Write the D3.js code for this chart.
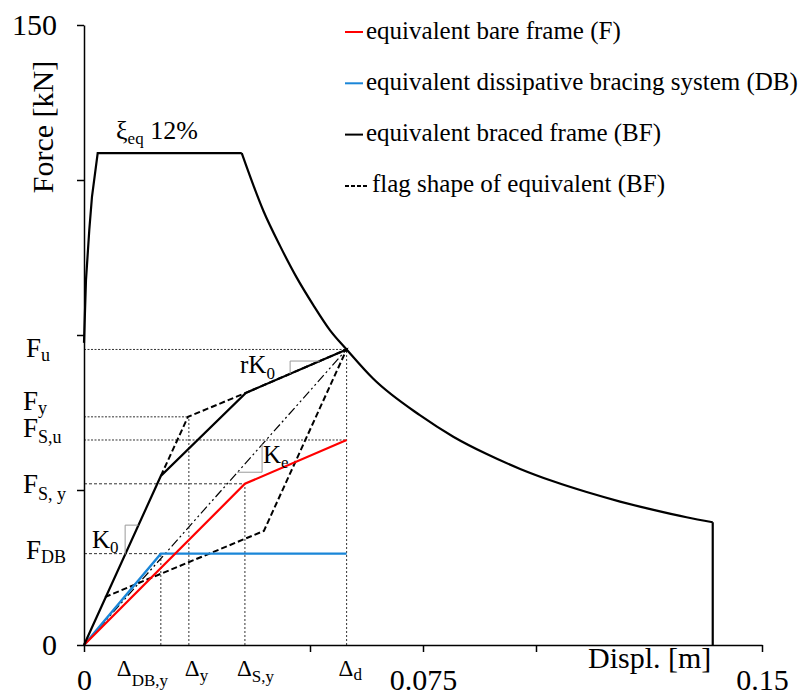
<!DOCTYPE html>
<html>
<head>
<meta charset="utf-8">
<script src="https://cdn.jsdelivr.net/npm/d3@7/dist/d3.min.js"></script>
<style>
  html, body { margin: 0; padding: 0; background: #fff; }
  svg { display: block; font-family: "Liberation Serif", "Times New Roman", serif; }
</style>
</head>
<body>
<svg id="chart" width="809" height="695"></svg>
<script>
(function () {
  'use strict';

  // ── Data (displacement in m, force in kN) ──────────────────────────────────
  // demand spectrum, xi_eq = 12 %
  const specRiseD  = [0, 0.00044, 0.00117, 0.00177, 0.00303];
  const specRiseF  = [73.1, 88.3, 100.4, 108.5, 119];
  const specDecayD = [0.0349, 0.0397, 0.0434, 0.0470, 0.0507, 0.0544, 0.0581, 0.0640, 0.0743,
                      0.0817, 0.0891, 0.0965, 0.1038, 0.1112, 0.1186, 0.1260, 0.1333, 0.1391];
  const specDecayF = [119, 105, 96.5, 89, 82.3, 76.2, 71.5, 64.4, 55.6,
                      50.4, 46.2, 42.6, 39.6, 37.0, 34.7, 32.7, 30.9, 29.7];

  // characteristic points
  const dDBy = 0.0170, dY = 0.0232, dSy = 0.0356, dD = 0.0581;
  const fU = 71.5, fY = 55.2, fSu = 49.6, fSy = 39.0, fDB = 22.1;

  const frameD   = [0, dSy, dD];          // equivalent bare frame (F)
  const frameF   = [0, fSy, fSu];
  const bracingD = [0, dDBy, dD];         // dissipative bracing (DB)
  const bracingF = [0, fDB, fDB];
  const bracedD  = [0, dDBy, 0.0358, dD]; // braced frame (BF)
  const bracedF  = [0, 40.9, 61.0, fU];
  const flagD    = [dDBy, 0.0230, 0.0358, dD, 0.0398, 0.00465];
  const flagF    = [40.9, fY, 61.0, fU, 27.6, 11.6];
  const secantD  = [0, dD];
  const secantF  = [0, fU];

  // slope triangles [d, F]
  const triK0  = [[0.0091, 21.9], [0.0091, 29.0], [0.01205, 29.0]];
  const triRK0 = [[0.0456, 65.6], [0.0456, 68.7], [0.0521, 68.7]];
  const triKe  = [[0.0339, 41.8], [0.0394, 41.8], [0.0394, 48.6]];

  const xTicks = [0, 0.05, 0.075, 0.1, 0.15];
  const xTickLabels = { 0: '0', 0.075: '0.075', 0.15: '0.15' };
  const yTicks = [0, 37.5, 75, 112.5, 150];

  const legendLabels = ['equivalent bare frame (F)', 'equivalent dissipative bracing system (DB)',
                        'equivalent braced frame (BF)', 'flag shape of equivalent (BF)'];
  const legendColors = ['#ff0000', '#1a86d8', '#000', '#000'];
  const legendDashed = [false, false, false, true];

  // ── Setup ──────────────────────────────────────────────────────────────────
  const svg = d3.select('#chart');
  const x = d3.scaleLinear().domain([0, 0.15]).range([84, 762]);
  const y = d3.scaleLinear().domain([0, 150]).range([645, 25]);
  const zip = (ds, fs) => ds.map((d, i) => [d, fs[i]]);
  const line = d3.line().x(p => x(p[0])).y(p => y(p[1]));

  // ── Guide lines ────────────────────────────────────────────────────────────
  const guides = svg.append('g').attr('stroke', '#333').attr('stroke-width', 1).attr('fill', 'none');
  const hGuides = [[fU, dD, '2,1.5'], [fY, dY, '2,1.5'], [fSu, dD, '2,1.5'], [fSy, dSy, '3,2'], [fDB, dDBy, '3,2']];
  hGuides.forEach(([f, d, dash]) => {
    guides.append('path').attr('d', line([[0, f], [d, f]])).attr('stroke-dasharray', dash);
  });
  const vGuides = [[dDBy, fDB], [dY, fY], [dSy, fSy], [dD, fU]];
  vGuides.forEach(([d, f]) => {
    guides.append('path').attr('d', line([[d, 0], [d, f]])).attr('stroke-dasharray', '2,2');
  });

  // ── Demand spectrum ────────────────────────────────────────────────────────
  const specLeft = zip(specRiseD, specRiseF).concat([[specDecayD[0], specDecayF[0]]]);
  svg.append('path').attr('d', line(specLeft))
    .attr('fill', 'none').attr('stroke', '#000').attr('stroke-width', 2.2);
  svg.append('path').attr('d', line.curve(d3.curveMonotoneX)(zip(specDecayD, specDecayF)))
    .attr('fill', 'none').attr('stroke', '#000').attr('stroke-width', 2.2);
  line.curve(d3.curveLinear);
  const last = specDecayD.length - 1;
  svg.append('path').attr('d', line([[specDecayD[last], specDecayF[last]], [specDecayD[last], 0]]))
    .attr('fill', 'none').attr('stroke', '#000').attr('stroke-width', 2.2);

  // ── Secant, flag shape and curves ──────────────────────────────────────────
  svg.append('path').attr('d', line(zip(secantD, secantF)))
    .attr('fill', 'none').attr('stroke', '#000').attr('stroke-width', 1.2)
    .attr('stroke-dasharray', '9,3,2,3,2,3');
  svg.append('path').attr('d', line(zip(flagD, flagF)))
    .attr('fill', 'none').attr('stroke', '#000').attr('stroke-width', 2)
    .attr('stroke-dasharray', '6,3');
  svg.append('path').attr('d', line(zip(bracingD, bracingF)))
    .attr('fill', 'none').attr('stroke', legendColors[1]).attr('stroke-width', 2.4);
  svg.append('path').attr('d', line(zip(frameD, frameF)))
    .attr('fill', 'none').attr('stroke', legendColors[0]).attr('stroke-width', 2.2);
  svg.append('path').attr('d', line(zip(bracedD, bracedF)))
    .attr('fill', 'none').attr('stroke', '#000').attr('stroke-width', 2.2);

  [triK0, triRK0, triKe].forEach(t => {
    svg.append('path').attr('d', line(t))
      .attr('fill', 'none').attr('stroke', '#9a9a9a').attr('stroke-width', 1);
  });

  // ── Axes ───────────────────────────────────────────────────────────────────
  const yAxis = svg.append('g').attr('transform', 'translate(84,0)')
    .call(d3.axisLeft(y).tickValues(yTicks).tickSize(7).tickSizeOuter(0).tickPadding(20)
      .tickFormat(d => (d === 0 || d === 150) ? String(d) : ''));
  const xAxis = svg.append('g').attr('transform', 'translate(0,645)')
    .call(d3.axisBottom(x).tickValues(xTicks).tickSize(7).tickSizeOuter(0).tickPadding(17)
      .tickFormat(d => xTickLabels[d] || ''));
  [xAxis, yAxis].forEach(a => {
    a.selectAll('path, line').attr('stroke', '#000').attr('stroke-width', 1.5);
    a.selectAll('text').attr('font-family', 'Liberation Serif, serif')
      .attr('font-size', 30).attr('fill', '#000');
  });

  svg.append('text').attr('transform', 'translate(53,127) rotate(-90)')
    .attr('text-anchor', 'middle').attr('font-size', 30).text('Force [kN]');
  svg.append('text').attr('x', 588).attr('y', 668).attr('font-size', 30).text('Displ. [m]');

  // ── Labels with subscripts ─────────────────────────────────────────────────
  function subLabel(px, py, main, sub, size, subSize, drop, rest) {
    const t = svg.append('text').attr('x', px).attr('y', py).attr('font-size', size);
    t.append('tspan').text(main);
    t.append('tspan').attr('font-size', subSize).attr('dy', drop).text(sub);
    if (rest) t.append('tspan').attr('font-size', size).attr('dy', -drop).text(rest);
    return t;
  }

  // force levels on the left
  subLabel(26, y(fU) + 8, 'F', 'u', 27, 18, 4);
  subLabel(23, y(fY) - 7, 'F', 'y', 27, 18, 4);
  subLabel(23, y(fSu) - 3, 'F', 'S,u', 27, 18, 6);
  subLabel(23, y(fSy) + 9, 'F', 'S, y', 27, 18, 7);
  subLabel(26, y(fDB) + 5, 'F', 'DB', 27, 18, 4);

  // displacement levels at the bottom
  subLabel(x(dDBy) - 44, 676, 'Δ', 'DB,y', 23, 17, 10);
  subLabel(x(dY) - 4, 676, 'Δ', 'y', 23, 17, 5);
  subLabel(x(dSy) - 8, 676, 'Δ', 'S,y', 23, 17, 6);
  subLabel(x(dD) - 8, 676, 'Δ', 'd', 23, 17, 4);

  // stiffness labels and damping
  subLabel(240, 373, 'rK', '0', 25, 17, 6);
  subLabel(263, 463, 'K', 'e', 25, 17, 5);
  subLabel(92, 548, 'K', '0', 25, 17, 5);
  subLabel(116, 139, 'ξ', 'eq', 26, 17, 5, ' 12%');

  // ── Legend ─────────────────────────────────────────────────────────────────
  const legend = svg.append('g');
  legendLabels.forEach((lab, i) => {
    const cy = 32 + i * 51.3;
    legend.append('line').attr('x1', 345).attr('x2', legendDashed[i] ? 367 : 363)
      .attr('y1', cy).attr('y2', cy).attr('stroke', legendColors[i]).attr('stroke-width', 2)
      .attr('stroke-dasharray', legendDashed[i] ? '4,2' : null);
    legend.append('text').attr('x', legendDashed[i] ? 372 : 366).attr('y', cy + 6.5)
      .attr('font-size', 25).text(lab);
  });
})();
</script>
</body>
</html>
